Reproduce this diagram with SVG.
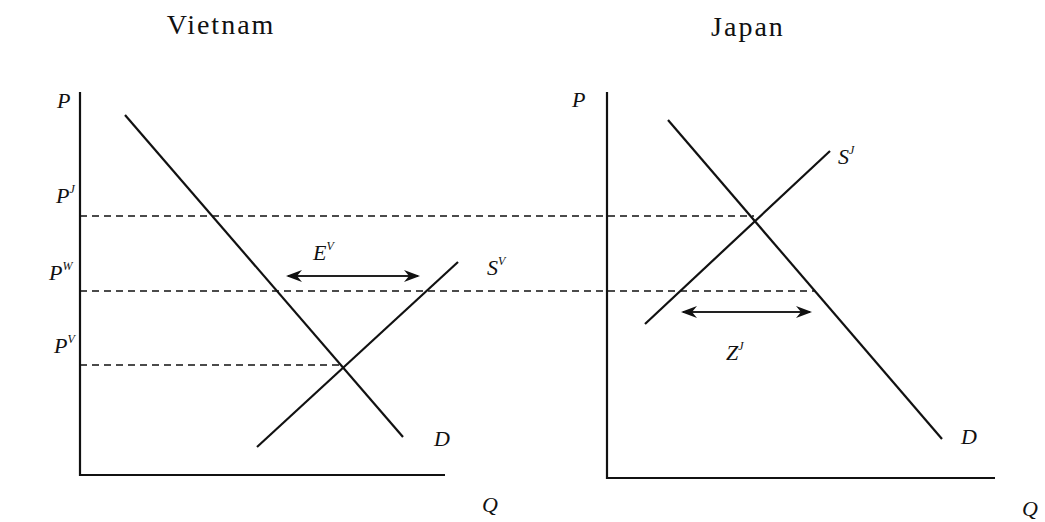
<svg xmlns="http://www.w3.org/2000/svg" width="1045" height="522" viewBox="0 0 1045 522">
<style>
.ax{stroke:#111;stroke-width:2.2;fill:none}
.ln{stroke:#111;stroke-width:2.2;fill:none}
.da{stroke:#111;stroke-width:1.6;stroke-dasharray:7,5;fill:none}
.ar{stroke:#222;stroke-width:2;fill:none;marker-start:url(#ah);marker-end:url(#ah)}
.t{font-family:"Liberation Serif",serif;fill:#111;font-size:28px;letter-spacing:2px}
.i{font-family:"Liberation Serif",serif;font-style:italic;fill:#111;font-size:22px}
.s{font-size:12px}
</style>
<defs>
<marker id="ah" viewBox="0 0 16 12" refX="14" refY="6" markerWidth="16" markerHeight="12" markerUnits="userSpaceOnUse" orient="auto-start-reverse">
<path d="M0,0 L16,6 L0,12 L5,6 Z" fill="#111"/>
</marker>
</defs>
<g id="titles">
<text class="t" x="221" y="34" text-anchor="middle">Vietnam</text>
<text class="t" x="748" y="36" text-anchor="middle">Japan</text>
</g>
<g id="axes">
<path class="ax" d="M80,92 V475 H445"/>
<path class="ax" d="M607,92 V478 H995"/>
</g>
<g id="connectors">
<line class="da" x1="80" y1="216" x2="754" y2="216"/>
<line class="da" x1="80" y1="291" x2="815" y2="291"/>
<line class="da" x1="80" y1="365" x2="343" y2="365"/>
<line class="ar" x1="288" y1="276" x2="418" y2="276"/>
<line class="ar" x1="683" y1="312" x2="810" y2="312"/>
</g>
<g id="curves">
<line id="DV" class="ln" x1="125" y1="115" x2="403" y2="437"/>
<line id="SV" class="ln" x1="257" y1="447" x2="458" y2="262"/>
<line id="DJ" class="ln" x1="668" y1="120" x2="942" y2="439"/>
<line id="SJ" class="ln" x1="645" y1="324" x2="830" y2="151"/>
</g>
<g id="labels">
<text class="i" x="57" y="108">P</text>
<text class="i" x="572" y="107">P</text>
<text class="i" x="56" y="203">P<tspan class="s" dy="-10">J</tspan></text>
<text class="i" x="49" y="280">P<tspan class="s" dy="-10">W</tspan></text>
<text class="i" x="54" y="353">P<tspan class="s" dy="-10">V</tspan></text>
<text class="i" x="313" y="260">E<tspan class="s" dy="-10">V</tspan></text>
<text class="i" x="487" y="275">S<tspan class="s" dy="-10">V</tspan></text>
<text class="i" x="838" y="164">S<tspan class="s" dy="-10">J</tspan></text>
<text class="i" x="726" y="360">Z<tspan class="s" dy="-10">J</tspan></text>
<text class="i" x="434" y="446">D</text>
<text class="i" x="961" y="444">D</text>
<text class="i" x="482" y="512">Q</text>
<text class="i" x="1022" y="516">Q</text>
</g>
</svg>
